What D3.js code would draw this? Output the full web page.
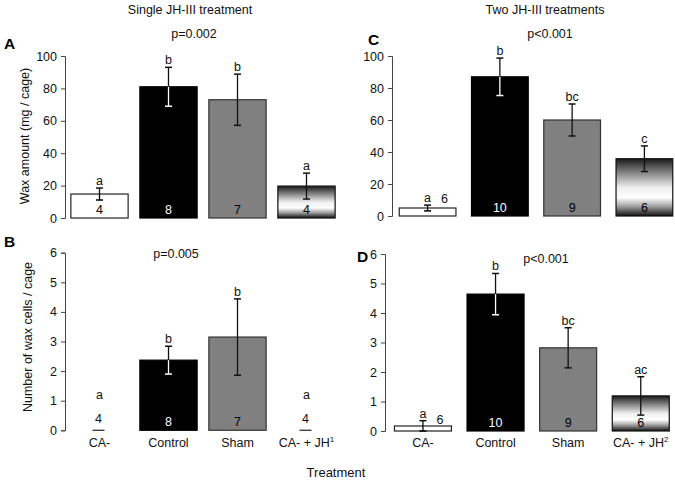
<!DOCTYPE html>
<html>
<head>
<meta charset="utf-8">
<script src="https://cdn.jsdelivr.net/npm/d3@7"></script>
<style>
  html, body { margin: 0; padding: 0; background: #fff; }
  svg { display: block; font-family: "Liberation Sans", Arial, sans-serif; }
</style>
</head>
<body>
<svg id="chart" width="675" height="482"></svg>
<script>
// ---------- data ----------
const categories = ["CA-", "Control", "Sham", "CA- + JH"];
const superscriptsSingle = ["", "", "", "1"];
const superscriptsTwo = ["", "", "", "2"];

const waxSingle = [14.8, 81, 73, 19.7];
const waxSingleErr = [3.7, 12, 15.8, 8];
const waxSingleLetters = ["a", "b", "b", "a"];
const nSingle = [4, 8, 7, 4];

const cellsSingle = [0, 2.37, 3.15, 0];
const cellsSingleErr = [0, 0.47, 1.29, 0];
const cellsSingleLetters = ["a", "b", "b", "a"];

const waxTwo = [5, 87, 60, 35.8];
const waxTwoErr = [1.8, 11.7, 10, 8];
const waxTwoLetters = ["a", "b", "bc", "c"];
const nTwo = [6, 10, 9, 6];

const cellsTwo = [0.17, 4.64, 2.82, 1.19];
const cellsTwoErr = [0.18, 0.7, 0.68, 0.65];
const cellsTwoLetters = ["a", "b", "bc", "ac"];

const waxTicks = [0, 20, 40, 60, 80, 100];
const cellTicks = [0, 1, 2, 3, 4, 5, 6];

// ---------- drawing ----------
const svg = d3.select("#chart");
const defs = svg.append("defs");
const grad = defs.append("linearGradient").attr("id", "jhGrad")
  .attr("x1", 0).attr("y1", 0).attr("x2", 0).attr("y2", 1);
[[0, "#1a1a1a"], [0.22, "#7a7a7a"], [0.5, "#eeeeee"], [0.68, "#ffffff"], [0.84, "#9a9a9a"], [1, "#111111"]]
  .forEach(([o, c]) => grad.append("stop").attr("offset", o).attr("stop-color", c));

const fills = ["#ffffff", "#000000", "#808080", "url(#jhGrad)"];
const strokes = ["#222", "#000", "#333", "#111"];
const errInside = ["#000", "#fff", "#111", "#111"];
const errOutside = "#111";
const nColors = ["#000", "#fff", "#000", "#000"];

function panel(cfg) {
  const g = svg.append("g");
  const x = d3.scaleBand().domain(d3.range(categories.length))
    .range(cfg.xRange).paddingInner(cfg.padIn).paddingOuter(cfg.padOut);
  const y = d3.scaleLinear().domain([0, cfg.max]).range(cfg.yRange);

  // y axis
  const ax = g.append("g").attr("transform", `translate(${cfg.xRange[0]},0)`)
    .call(d3.axisLeft(y).tickValues(cfg.ticks).tickSize(4).tickPadding(4).tickFormat(d3.format("d")));
  ax.select(".domain").attr("stroke", "#444").attr("stroke-width", 1);
  ax.selectAll(".tick line").attr("stroke", "#444");
  ax.selectAll(".tick text").attr("font-size", 12.5).attr("fill", "#111")
    .attr("font-family", "'Liberation Sans', Arial, sans-serif");

  const y0 = y(0);
  categories.forEach((c, i) => {
    const v = cfg.values[i], e = cfg.errs[i];
    const bx = x(i), bw = x.bandwidth(), cx = bx + bw / 2;
    if (v > 0) {
      g.append("rect").attr("x", bx).attr("y", y(v)).attr("width", bw)
        .attr("height", y0 - y(v)).attr("fill", fills[i])
        .attr("stroke", strokes[i]).attr("stroke-width", 1.2);
    } else {
      g.append("line").attr("x1", cx - 7).attr("x2", cx + 5).attr("y1", y0).attr("y2", y0)
        .attr("stroke", "#333").attr("stroke-width", 1.3);
    }
    let capTop = y(v);
    if (e > 0) {
      const top = y(v + e), bot = y(Math.max(0, v - e)), mid = y(v);
      capTop = top;
      g.append("line").attr("x1", cx).attr("x2", cx).attr("y1", top).attr("y2", mid)
        .attr("stroke", errOutside).attr("stroke-width", 1.3);
      g.append("line").attr("x1", cx).attr("x2", cx).attr("y1", mid).attr("y2", bot)
        .attr("stroke", errInside[i]).attr("stroke-width", 1.3);
      g.append("line").attr("x1", cx - 3.5).attr("x2", cx + 3.5)
        .attr("y1", top).attr("y2", top).attr("stroke", errOutside).attr("stroke-width", 1.5);
      g.append("line").attr("x1", cx - 3.5).attr("x2", cx + 3.5)
        .attr("y1", bot).attr("y2", bot).attr("stroke", errInside[i]).attr("stroke-width", 1.5);
    }
    // significance letter
    const letterY = v > 0 ? capTop - 3 : y0 - 31;
    g.append("text").attr("x", cx).attr("y", letterY).attr("text-anchor", "middle")
      .attr("font-size", 12.5).attr("fill", "#111").text(cfg.letters[i]);
    // n label
    const short = v > 0 && (y0 - y(v)) < 16;
    if (short) {
      g.append("text").attr("x", cx + 17).attr("y", cfg.shortNAlign === "letter" ? letterY + 1 : y0 - 7)
        .attr("text-anchor", "middle").attr("font-size", 12.5).attr("fill", "#111").text(cfg.n[i]);
    } else if (v > 0) {
      g.append("text").attr("x", cx).attr("y", y0 - 4).attr("text-anchor", "middle")
        .attr("font-size", 12.5).attr("fill", nColors[i]).text(cfg.n[i]);
    } else {
      g.append("text").attr("x", cx - 1).attr("y", y0 - 7).attr("text-anchor", "middle")
        .attr("font-size", 12.5).attr("fill", "#111").text(cfg.n[i]);
    }
  });

  // x labels
  if (cfg.xLabels) {
    categories.forEach((c, i) => {
      const t = g.append("text").attr("x", x(i) + x.bandwidth() / 2).attr("y", cfg.xLabelY)
        .attr("text-anchor", "middle").attr("font-size", 12.5).attr("fill", "#111");
      t.append("tspan").text(c);
      if (cfg.sups[i]) t.append("tspan").attr("font-size", 8).attr("dy", -5).text(cfg.sups[i]);
    });
  }

  // panel letter
  svg.append("text").attr("x", cfg.letterPos[0]).attr("y", cfg.letterPos[1])
    .attr("font-size", 15.5).attr("font-weight", "bold").attr("fill", "#000").text(cfg.label);
  // p value
  svg.append("text").attr("x", cfg.pPos[0]).attr("y", cfg.pPos[1]).attr("text-anchor", "middle")
    .attr("font-size", 12.5).attr("fill", "#111").text(cfg.p);
}

panel({ label: "A", values: waxSingle, errs: waxSingleErr, letters: waxSingleLetters, n: nSingle,
  max: 100, ticks: waxTicks, xRange: [65, 341], padIn: 0.17, padOut: 0.085, yRange: [218, 56],
  letterPos: [4, 49], pPos: [194, 38], p: "p=0.002" });
panel({ label: "B", values: cellsSingle, errs: cellsSingleErr, letters: cellsSingleLetters, n: nSingle,
  max: 6, ticks: cellTicks, xRange: [65, 341], padIn: 0.17, padOut: 0.085, yRange: [430.3, 252.7],
  letterPos: [4, 247], pPos: [176, 258], p: "p=0.005",
  xLabels: true, xLabelY: 447, sups: superscriptsSingle });
panel({ label: "C", values: waxTwo, errs: waxTwoErr, letters: waxTwoLetters, n: nTwo,
  max: 100, ticks: waxTicks, xRange: [392, 680], padIn: 0.215, padOut: 0.1, yRange: [216, 56],
  letterPos: [368, 45], pPos: [550, 38], p: "p<0.001", shortNAlign: "letter" });
panel({ label: "D", values: cellsTwo, errs: cellsTwoErr, letters: cellsTwoLetters, n: nTwo,
  max: 6, ticks: cellTicks, xRange: [385, 678.7], padIn: 0.215, padOut: 0.13, yRange: [431, 254],
  letterPos: [357, 262], pPos: [546, 263], p: "p<0.001",
  xLabels: true, xLabelY: 447, sups: superscriptsTwo });

// titles
svg.append("text").attr("x", 190).attr("y", 14).attr("text-anchor", "middle")
  .attr("font-size", 12.5).attr("fill", "#111").text("Single JH-III treatment");
svg.append("text").attr("x", 545).attr("y", 14).attr("text-anchor", "middle")
  .attr("font-size", 12.5).attr("fill", "#111").text("Two JH-III treatments");
// axis titles
svg.append("text").attr("transform", "translate(29,136) rotate(-90)").attr("text-anchor", "middle")
  .attr("font-size", 12.5).attr("fill", "#111").text("Wax amount (mg / cage)");
svg.append("text").attr("transform", "translate(32,337) rotate(-90)").attr("text-anchor", "middle")
  .attr("font-size", 12.5).attr("fill", "#111").text("Number of wax cells / cage");
svg.append("text").attr("x", 336).attr("y", 477).attr("text-anchor", "middle")
  .attr("font-size", 13).attr("fill", "#111").text("Treatment");
</script>
</body>
</html>
